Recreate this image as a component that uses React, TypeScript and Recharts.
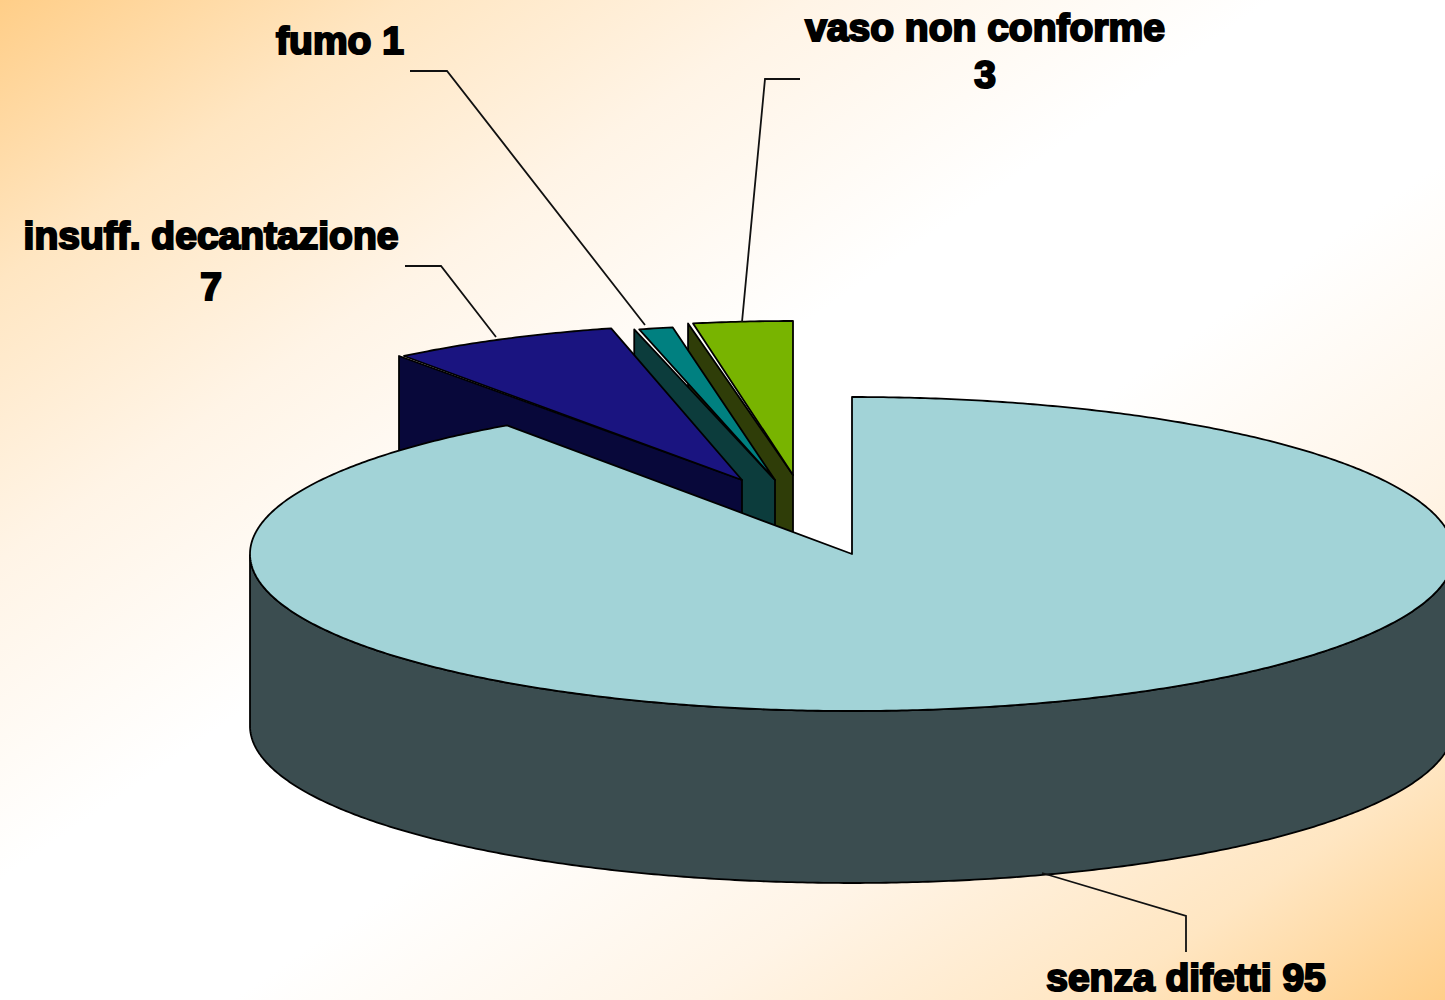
import React from "react";
import { PieChart, Pie } from "recharts";

const categories = ["vaso non conforme", "fumo", "insuff. decantazione", "senza difetti"];
const values = [3, 1, 7, 95];
const topColors = ["#78B400", "#008080", "#1A1480", "#A2D3D7"];
const wallColors = ["#2F3D08", "#0C3C3C", "#08083A", "#3B4D50"];

const data = categories.map((name, i) => ({ name, value: values[i], fill: topColors[i], wall: wallColors[i] }));

const CX = 852;
const CY = 554;
const RX = 602;
const RY = 157;
const DEPTH = 172;

const sliceGeometry: Record<string, { x: number; y: number; rx: number; ry: number; exploded: boolean; trim: number }> = {
  "insuff. decantazione": { x: 742, y: 480, rx: 557, ry: 156, exploded: true, trim: 0 },
  fumo: { x: 775, y: 480, rx: 578, ry: 155, exploded: true, trim: 0 },
  "vaso non conforme": { x: 793, y: 475, rx: 565, ry: 154, exploded: true, trim: 0 },
  "senza difetti": { x: CX, y: CY, rx: RX, ry: RY, exploded: false, trim: 2.4 },
};

const labelLayout: Record<string, { lines: string[]; x: number; ys: number[] }> = {
  "insuff. decantazione": { lines: ["insuff. decantazione", "7"], x: 211, ys: [249, 300] },
  fumo: { lines: ["fumo 1"], x: 340, ys: [54] },
  "vaso non conforme": { lines: ["vaso non conforme", "3"], x: 985, ys: [41, 88] },
  "senza difetti": { lines: ["senza difetti 95"], x: 1186, ys: [991] },
};

const leaderPoints: Record<string, string> = {
  "insuff. decantazione": "405,266 441,266 496,337",
  fumo: "410,71 447,71 645,325",
  "vaso non conforme": "800,79 765,79 742,322",
  "senza difetti": "1042,873 1186,916 1186,952",
};

const RAD = Math.PI / 180;

function EllipticSector(props: any) {
  const g = sliceGeometry[props.name];
  const at = (deg: number, dy = 0) => [g.x + g.rx * Math.cos(deg * RAD), g.y - g.ry * Math.sin(deg * RAD) + dy];
  const from: number = props.startAngle - g.trim;
  const to: number = props.endAngle;
  const steps = Math.max(2, Math.ceil(Math.abs(to - from) * 2));
  const arc: number[] = [];
  for (let i = 0; i <= steps; i++) arc.push(from + ((to - from) * i) / steps);
  const top = `M${g.x},${g.y} ` + arc.map((a) => "L" + at(a).join(",")).join(" ") + " Z";
  const stroke = { stroke: "#000", strokeWidth: 1.8, strokeLinejoin: "round" as const };

  let wall = "";
  if (g.exploded) {
    const tip = at(to);
    wall = `M${tip[0] - 5},${tip[1]} L${g.x},${g.y} L${g.x},${g.y + DEPTH} L${tip[0] - 5},${tip[1] + DEPTH} Z`;
  } else {
    const front = arc.filter((a) => Math.sin(a * RAD) <= 0);
    const upper = front.map((a) => at(a).join(","));
    const lower = front.map((a) => at(a, DEPTH).join(",")).reverse();
    wall = "M" + upper.concat(lower).join(" L") + " Z";
  }
  return (
    <g>
      <path d={wall} fill={props.wall} {...stroke} />
      <path d={top} fill={props.fill} {...stroke} />
    </g>
  );
}

function renderLabel(props: any) {
  const layout = labelLayout[props.name];
  return (
    <g key={props.name}>
      {layout.lines.map((line, i) => (
        <text
          key={line}
          x={layout.x}
          y={layout.ys[i]}
          textAnchor="middle"
          fontFamily="Liberation Sans"
          fontWeight="bold"
          fontSize={39}
          fill="#000"
          stroke="#000"
          strokeWidth={2.2}
        >
          {line}
        </text>
      ))}
    </g>
  );
}

function renderLeader(props: any) {
  return <polyline key={props.name} points={leaderPoints[props.name]} fill="none" stroke="#111" strokeWidth={1.8} />;
}

export default function App() {
  return (
    <div
      style={{
        position: "absolute",
        left: 0,
        top: 0,
        width: 1445,
        height: 1000,
        overflow: "hidden",
        background:
          "linear-gradient(to bottom right, #FFCE88 0%, #FFE6C2 14%, #FFF4E6 28%, #FFFFFF 44%, #FFFFFF 58%, #FFF4E6 74%, #FFE6C2 88%, #FFCE88 100%)",
      }}
    >
      <PieChart width={1445} height={1000} margin={{ top: 0, right: 0, bottom: 0, left: 0 }}>
        <Pie
          data={data}
          dataKey="value"
          nameKey="name"
          cx={CX}
          cy={CY}
          innerRadius={0}
          outerRadius={RX}
          startAngle={90}
          endAngle={450}
          paddingAngle={0}
          isAnimationActive={false}
          shape={EllipticSector}
          label={renderLabel}
          labelLine={renderLeader}
        />
      </PieChart>
    </div>
  );
}
